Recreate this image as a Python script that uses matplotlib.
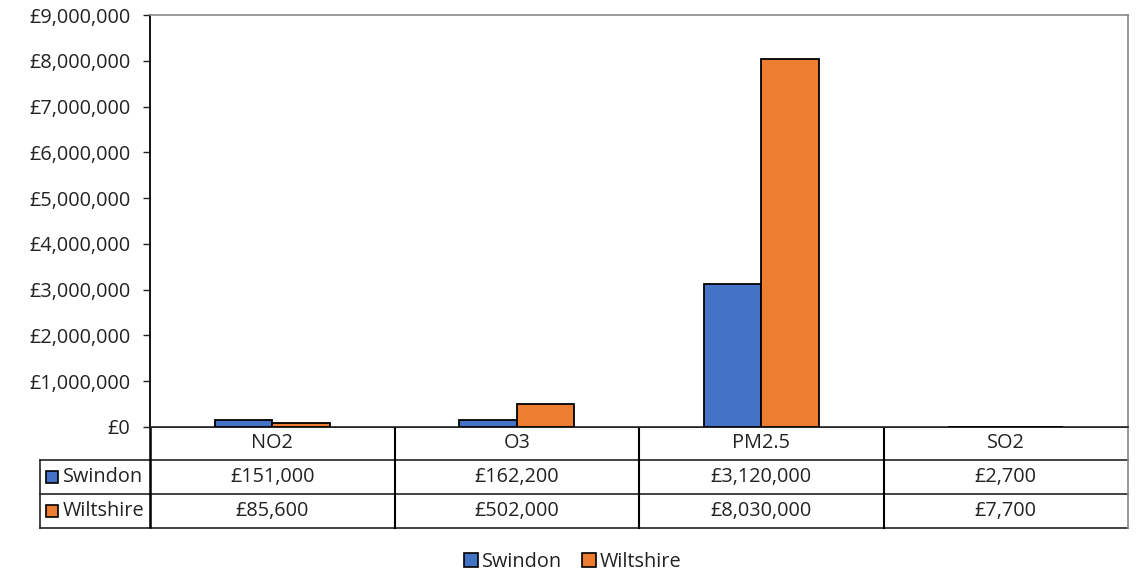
import matplotlib.pyplot as plt
from matplotlib.patches import Patch, Rectangle
from matplotlib.ticker import FuncFormatter
import matplotlib.transforms as mtransforms
import numpy as np

plt.rcParams['font.family'] = ['Open Sans', 'DejaVu Sans']
FS = 14.3

pollutants = ["NO2", "O3", "PM2.5", "SO2"]
swindon = [151000, 162200, 3120000, 2700]
wiltshire = [85600, 502000, 8030000, 7700]
series = ["Swindon", "Wiltshire"]
colors = ["#4472C4", "#ED7D31"]

W, H = 1145, 574
fig = plt.figure(figsize=(W / 100, H / 100), dpi=100)

# pixel layout of the plot area and the data table beneath it
left, right, top, bottom = 150, 1128, 15, 427
row_edges = [427, 460, 494, 528]
table_left = 40

ax = fig.add_axes([left / W, 1 - bottom / H, (right - left) / W, (bottom - top) / H])
x = np.arange(len(pollutants))
bw = 0.235
for i, (vals, c) in enumerate(zip([swindon, wiltshire], colors)):
    ax.bar(x + (i - 0.5) * bw, vals, width=bw, color=c, edgecolor="black",
           linewidth=1.3, zorder=3)

ax.set_xlim(-0.5, len(pollutants) - 0.5)
ax.set_ylim(0, 9000000)
ax.set_yticks(np.arange(0, 9000001, 1000000))
ax.yaxis.set_major_formatter(FuncFormatter(lambda v, p: f"£{int(v):,}"))
ax.tick_params(axis="y", length=5, width=1, labelsize=FS, pad=9, colors="#222222",
               direction="out")
ax.tick_params(axis="x", length=0, labelbottom=False)
ax.spines["left"].set_color("black")
ax.spines["left"].set_linewidth(1.3)
ax.spines["bottom"].set_color("#222222")
ax.spines["bottom"].set_linewidth(1.2)
for s in ["top", "right"]:
    ax.spines[s].set_color("#888888")
    ax.spines[s].set_linewidth(1.2)

# full-figure overlay in pixel coordinates for the data table
tax = fig.add_axes([0, 0, 1, 1], zorder=-1)
tax.set_xlim(0, W)
tax.set_ylim(H, 0)
tax.axis("off")
bt = mtransforms.blended_transform_factory(ax.transData, tax.transData)

lc = "#222222"
# horizontal rules
tax.plot([left, right], [row_edges[0]] * 2, color=lc, lw=1.2)
for y in row_edges[1:]:
    tax.plot([table_left, right], [y, y], color=lc, lw=1.2)
# vertical rules
tax.plot([table_left, table_left], [row_edges[1], row_edges[3]], color=lc, lw=1.2)
tax.plot([left, left], [row_edges[0], row_edges[3]], color="black", lw=1.8,
         solid_capstyle="butt")
tax.plot([right, right], [row_edges[0], row_edges[3]], color="#888888", lw=1.2)
for k in range(1, len(pollutants)):
    tax.plot([k - 0.5, k - 0.5], [row_edges[0], row_edges[3]], color="black",
             lw=1.5, transform=bt)

# category header and values
for k, name in enumerate(pollutants):
    yc = (row_edges[0] + row_edges[1]) / 2
    tax.text(k, yc, name, transform=bt, ha="center", va="center", fontsize=FS,
             color="#222222")
    for r, vals in enumerate([swindon, wiltshire]):
        yc = (row_edges[r + 1] + row_edges[r + 2]) / 2
        tax.text(k, yc, f"£{vals[k]:,}", transform=bt, ha="center", va="center",
                 fontsize=FS, color="#222222")

# row labels with legend keys
for r, (name, c) in enumerate(zip(series, colors)):
    yc = (row_edges[r + 1] + row_edges[r + 2]) / 2
    tax.add_patch(Rectangle((46, yc - 6), 12, 12, facecolor=c, edgecolor="black",
                            lw=1.2))
    tax.text(63, yc, name, ha="left", va="center", fontsize=FS, color="#222222")

handles = [Patch(facecolor=c, edgecolor="black", linewidth=1.2) for c in colors]
fig.legend(handles, series, loc="center", bbox_to_anchor=(0.5, 1 - 562 / H),
           ncol=2, frameon=False, fontsize=FS, handlelength=0.7, handleheight=0.7,
           handletextpad=0.2, columnspacing=1.0, labelcolor="#222222")

fig.savefig("out.png", dpi=100)
